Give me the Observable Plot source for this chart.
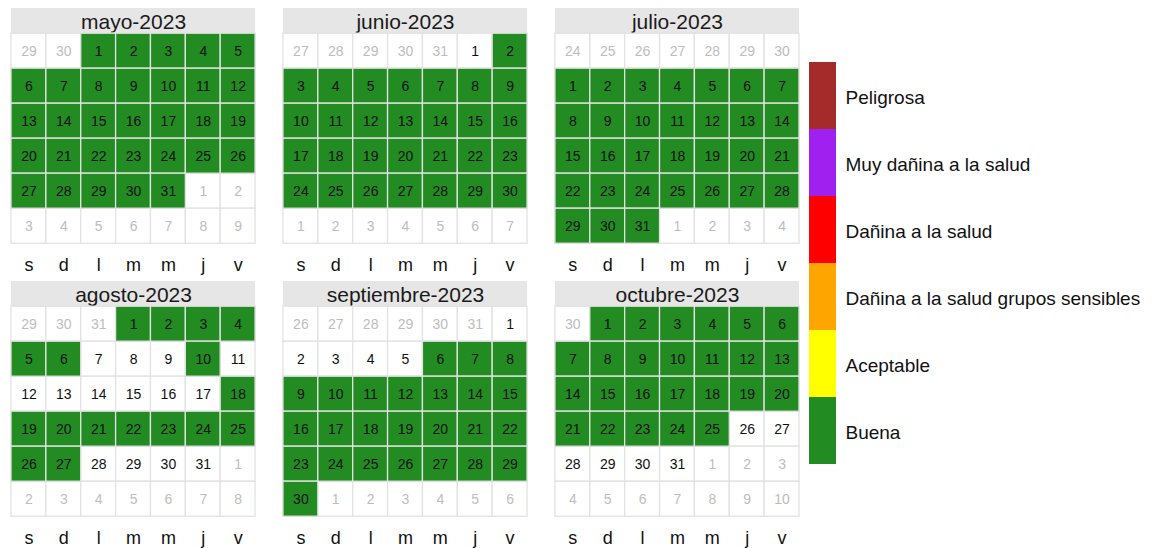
<!DOCTYPE html>
<html>
<head>
<meta charset="utf-8">
<script src="https://cdn.jsdelivr.net/npm/d3@7"></script>
<script src="https://cdn.jsdelivr.net/npm/@observablehq/plot@0.6"></script>
<style>
  html, body { margin: 0; padding: 0; background: #fff; }
  #wrap { display: flex; flex-direction: row; width: 1152px; height: 548px; }
  #wrap svg { display: block; }
</style>
</head>
<body>
<div id="wrap"></div>
<script>
// ---- data ----
const anio = 2023;
const meses = ["mayo-2023", "junio-2023", "julio-2023", "agosto-2023", "septiembre-2023", "octubre-2023"];
const mesNumero = [5, 6, 7, 8, 9, 10];
const diasSemana = ["s", "d", "l", "m", "m", "j", "v"];
const categorias = ["Peligrosa", "Muy dañina a la salud", "Dañina a la salud", "Dañina a la salud grupos sensibles", "Aceptable", "Buena"];
const colores = ["#A52A2A", "#A020F0", "#FF0000", "#FFA500", "#FFFF00", "#228B22"];

// days classified "Buena" in each month (other days: no data)
const buenaMayo = [1,2,3,4,5,6,7,8,9,10,11,12,13,14,15,16,17,18,19,20,21,22,23,24,25,26,27,28,29,30,31];
const buenaJunio = [2,3,4,5,6,7,8,9,10,11,12,13,14,15,16,17,18,19,20,21,22,23,24,25,26,27,28,29,30];
const buenaJulio = [1,2,3,4,5,6,7,8,9,10,11,12,13,14,15,16,17,18,19,20,21,22,23,24,25,26,27,28,29,30,31];
const buenaAgosto = [1,2,3,4,5,6,10,18,19,20,21,22,23,24,25,26,27];
const buenaSeptiembre = [6,7,8,9,10,11,12,13,14,15,16,17,18,19,20,21,22,23,24,25,26,27,28,29,30];
const buenaOctubre = [1,2,3,4,5,6,7,8,9,10,11,12,13,14,15,16,17,18,19,20,21,22,23,24,25];
const buenaPorMes = [buenaMayo, buenaJunio, buenaJulio, buenaAgosto, buenaSeptiembre, buenaOctubre];

// ---- layout helpers (panel offsets in scale units) ----
const PANEL_DX = 7.8, PANEL_DY = 7.8, TITLE_H = 0.72;
const px = p => (p % 3) * PANEL_DX;
const py = p => Math.floor(p / 3) * PANEL_DY;

// build the calendar cells (weeks start on Saturday)
const celdas = [];
meses.forEach((m, p) => {
  const primero = new Date(anio, mesNumero[p] - 1, 1);
  const lead = ((primero.getDay() + 1) % 7) || 7;
  for (let i = 0; i < 42; i++) {
    const d = new Date(anio, mesNumero[p] - 1, 1 - lead + i);
    const enMes = d.getMonth() === mesNumero[p] - 1;
    const dia = d.getDate();
    celdas.push({
      panel: p, col: i % 7, sem: Math.floor(i / 7), dia, enMes,
      calidad: enMes && buenaPorMes[p].includes(dia) ? "Buena" : null
    });
  }
});
const etiquetas = [];
meses.forEach((m, p) => diasSemana.forEach((s, k) => etiquetas.push({panel: p, col: k, s})));

const cx1 = d => px(d.panel) + d.col;
const cy1 = d => py(d.panel) + TITLE_H + d.sem;
const font = "'Liberation Sans', Arial, sans-serif";

const main = Plot.plot({
  width: 805, height: 548,
  marginLeft: 0, marginRight: 0, marginTop: 0, marginBottom: 0,
  x: {domain: [0, 22.6], range: [11, 799], axis: null},
  y: {domain: [0, 15.4], range: [8, 547], axis: null},
  color: {domain: categorias, range: colores},
  style: {fontFamily: font, background: "white"},
  marks: [
    // title strips
    Plot.rect(meses, {
      x1: (m, i) => px(i), x2: (m, i) => px(i) + 7,
      y1: (m, i) => py(i), y2: (m, i) => py(i) + TITLE_H,
      fill: "#e6e6e6"
    }),
    Plot.text(meses, {
      x: (m, i) => px(i) + 3.5, y: (m, i) => py(i) + TITLE_H / 2 + 0.04,
      text: d => d, fontSize: 21, fill: "#1a1a1a"
    }),
    // empty cells
    Plot.rect(celdas, {
      x1: cx1, x2: d => cx1(d) + 1, y1: cy1, y2: d => cy1(d) + 1,
      fill: "white", stroke: "#e2e2e2", strokeWidth: 1.3
    }),
    // coloured cells
    Plot.rect(celdas.filter(d => d.calidad), {
      x1: cx1, x2: d => cx1(d) + 1, y1: cy1, y2: d => cy1(d) + 1,
      fill: "calidad", stroke: "#e2e2e2", strokeWidth: 1.3
    }),
    // day numbers
    Plot.text(celdas, {
      x: d => cx1(d) + 0.5, y: d => cy1(d) + 0.5,
      text: "dia", fontSize: 14,
      fill: d => d.enMes ? "#111" : "#bdbdbd"
    }),
    // weekday labels
    Plot.text(etiquetas, {
      x: d => px(d.panel) + d.col + 0.5,
      y: d => py(d.panel) + TITLE_H + 6 + 0.62,
      text: "s", fontSize: 18, fill: "#111"
    })
  ]
});

const legend = Plot.plot({
  width: 347, height: 548,
  marginLeft: 0, marginRight: 0, marginTop: 0, marginBottom: 0,
  x: {domain: ["bar"], range: [4, 31], padding: 0, axis: null},
  y: {domain: categorias, range: [60, 466], padding: 0, axis: null},
  color: {domain: categorias, range: colores},
  style: {fontFamily: font, background: "white"},
  marks: [
    Plot.cell(categorias, {x: () => "bar", y: d => d, fill: d => d, inset: 0}),
    Plot.text(categorias, {
      x: () => "bar", y: d => d, text: d => d,
      textAnchor: "start", dx: 22.5, dy: 2, fontSize: 19, fill: "#111"
    })
  ]
});

document.getElementById("wrap").append(main, legend);
</script>
</body>
</html>
